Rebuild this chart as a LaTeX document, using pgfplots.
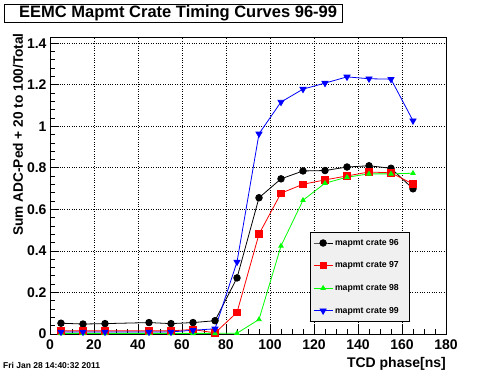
\documentclass[border=0pt]{standalone}
\usepackage{fontspec}
\setmainfont{Liberation Sans}
\usepackage{pgfplots}
\pgfplotsset{compat=1.18}
\definecolor{legbg}{RGB}{240,240,240}
\begin{document}
\begin{tikzpicture}[x=1pt,y=1pt]
\path[use as bounding box] (0,0) rectangle (496,372);
\begin{axis}[
  at={(50pt,38pt)}, anchor=south west,
  scale only axis, width=396pt, height=297pt,
  xmin=0, xmax=180, ymin=0, ymax=1.43,
  xtick={0,20,40,60,80,100,120,140,160,180},
  ytick={0,0.2,0.4,0.6,0.8,1,1.2,1.4},
  minor x tick num=3, minor y tick num=4,
  tick pos=left, tick align=inside,
  major tick length=9pt, minor tick length=5pt,
  grid=major, major grid style={black, dotted, line width=0.8pt},
  axis line style={line width=0.8pt},
  tick style={black, line width=0.8pt},
  /pgf/number format/assume math mode=true,
  ticklabel style={font=\bfseries\fontsize{14}{14}\selectfont},
  xticklabel style={anchor=base, inner sep=0pt, yshift=-15.3pt},
  yticklabel style={anchor=east, inner sep=0pt, xshift=-3.3pt},
  xlabel={TCD phase[ns]},
  xlabel style={at={(axis description cs:1,-0.1121)}, anchor=base east, inner sep=0pt, font=\bfseries\fontsize{14}{14}\selectfont},
  ylabel={Sum ADC-Ped + 20 to 100/Total},
  ylabel style={at={(axis description cs:-0.0808,1.0135)}, anchor=east, inner sep=0pt, font=\bfseries\fontsize{13.7}{13.7}\selectfont},
  legend style={at={(axis description cs:0.6566,0.3434)}, anchor=north west,
    draw=black, fill=legbg, font=\bfseries\fontsize{8.7}{8.7}\selectfont,
    inner xsep=3pt, inner ysep=5pt, row sep=11pt, cells={anchor=west}},
  legend image code/.code={\draw[mark repeat=2, mark phase=2] plot coordinates {(0pt,0pt) (9.5pt,0pt) (19pt,0pt)};},
]
\addplot[black, line width=0.8pt, mark=*, mark size=3.3pt, mark options={solid, fill=black}] coordinates {
 (5,0.052) (15,0.048) (25,0.050) (45,0.055) (55,0.050) (65,0.055) (75,0.064) (85,0.270)
 (95,0.656) (105,0.747) (115,0.785) (125,0.787) (135,0.804) (145,0.810) (155,0.798) (165,0.699)};
\addlegendentry{\makebox[69pt][l]{mapmt crate 96}}
\addplot[red, line width=0.8pt, mark=square*, mark size=3.2pt, mark options={solid, fill=red}] coordinates {
 (5,0.015) (15,0.015) (25,0.015) (45,0.015) (55,0.015) (65,0.022) (75,0.005) (85,0.104)
 (95,0.481) (105,0.678) (115,0.721) (125,0.742) (135,0.761) (145,0.780) (155,0.776) (165,0.722)};
\addlegendentry{\makebox[69pt][l]{mapmt crate 97}}
\addplot[green, line width=0.8pt, mark=triangle*, mark size=2.5pt, mark options={solid, fill=green}] coordinates {
 (5,0.003) (15,0.003) (25,0.003) (45,0.003) (55,0.003) (65,0.003) (75,0.003) (85,0.004)
 (95,0.070) (105,0.424) (115,0.644) (125,0.726) (135,0.755) (145,0.771) (155,0.771) (165,0.774)};
\addlegendentry{\makebox[69pt][l]{mapmt crate 98}}
\addplot[blue, line width=0.8pt, mark=triangle*, mark size=3.5pt, mark options={solid, fill=blue, rotate=180}] coordinates {
 (5,0.010) (15,0.010) (25,0.010) (45,0.010) (55,0.010) (65,0.018) (75,0.025) (85,0.347)
 (95,0.964) (105,1.117) (115,1.179) (125,1.208) (135,1.238) (145,1.229) (155,1.227) (165,1.027)};
\addlegendentry{\makebox[69pt][l]{mapmt crate 99}}
\end{axis}
\draw[fill=white, line width=0.8pt] (4,350) rectangle (342,368);
\node[anchor=base west, inner sep=0pt, font=\bfseries\fontsize{16.5}{16.5}\selectfont] at (19,354.7) {EEMC Mapmt Crate Timing Curves 96-99};
\node[anchor=base west, inner sep=0pt, font=\bfseries\fontsize{8.5}{8.5}\selectfont] at (3,3.7) {Fri Jan 28 14:40:32 2011};
\end{tikzpicture}
\end{document}
